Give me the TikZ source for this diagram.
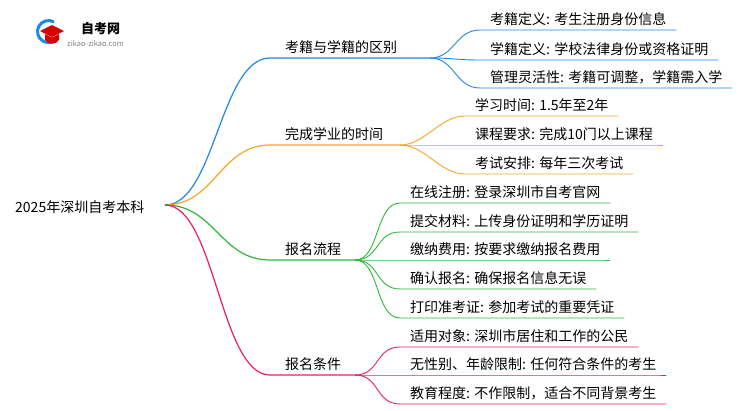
\documentclass[tikz,border=0pt]{standalone}
\usepackage{fontspec}
\setmainfont{Noto Sans CJK SC}
\begin{document}
\begin{tikzpicture}[x=1pt,y=-1pt,
  lbl/.style={anchor=south west,inner sep=0pt,font=\fontsize{14}{14}\selectfont},
  ln/.style={line width=1.2pt}]
\useasboundingbox (0,0) rectangle (750,410);
\definecolor{cb}{HTML}{1E88E5}\definecolor{co}{HTML}{F5A623}
\definecolor{cg}{HTML}{2DB83D}\definecolor{cp}{HTML}{E91E63}
% logo
\draw[cb,line width=3pt] (54,22) arc (-60:-300:11);
\fill[red!85!black] (40,31)--(52,25)--(64,31)--(52,37)--cycle;
\fill[red!85!black] (45,34)--(45,40) .. controls (48,45) and (56,45) .. (59,40)--(59,34)--(52,37.5)--cycle;
\node[anchor=west,inner sep=0,font=\fontsize{13}{13}\selectfont\bfseries] (lg) at (81,29) {自考网};
\node[anchor=west,inner sep=0,font=\fontsize{7.5}{7.5}\selectfont,text=gray] (lu) at (67,44) {zikao-zikao.com};
% root
\node[anchor=west,inner sep=0,font=\fontsize{14}{14}\selectfont] (root) at (15,207) {2025年深圳自考本科};
\coordinate (r) at (165,205);
\foreach \c/\y/\e/\t [count=\i] in {cb/58/430/考籍与学籍的区别, co/145/400/完成学业的时间, cg/260/355/报名流程, cp/375/355/报名条件}{
  \draw[\c,ln] (r) .. controls (215,205) and (220,\y) .. (270,\y) -- (\e,\y) coordinate (b\i);
  \node[lbl] (bt\i) at (285,\y-4) {\t};
}
% kids: color/branch x/branch y/line y/start x/text
\foreach \c/\bx/\by/\y/\x/\t [count=\j] in {
 cb/430/58/30/480/考籍定义: 考生注册身份信息,
 cb/430/58/60/480/学籍定义: 学校法律身份或资格证明,
 cb/430/58/88/480/管理灵活性: 考籍可调整，学籍需入学,
 co/400/145/116/465/学习时间: 1.5年至2年,
 co/400/145/145/465/课程要求: 完成10门以上课程,
 co/400/145/174/465/考试安排: 每年三次考试,
 cg/355/260/203/400/在线注册: 登录深圳市自考官网,
 cg/355/260/232/400/提交材料: 上传身份证明和学历证明,
 cg/355/260/260/400/缴纳费用: 按要求缴纳报名费用,
 cg/355/260/289/400/确认报名: 确保报名信息无误,
 cg/355/260/318/400/打印准考证: 参加考试的重要凭证,
 cp/355/375/347/400/适用对象: 深圳市居住和工作的公民,
 cp/355/375/375/400/无性别、年龄限制: 任何符合条件的考生,
 cp/355/375/404/400/教育程度: 不作限制，适合不同背景考生}{
  \node[lbl] (k\j) at (\x+10,\y-4) {\t};
  \draw[\c,line width=0.9pt] (\bx,\by) .. controls (\bx+25,\by) and (\x-25,\y) .. (\x,\y) -- (k\j.south east|-0,\y) -- ++(10,0);
}
\end{tikzpicture}
\end{document}
